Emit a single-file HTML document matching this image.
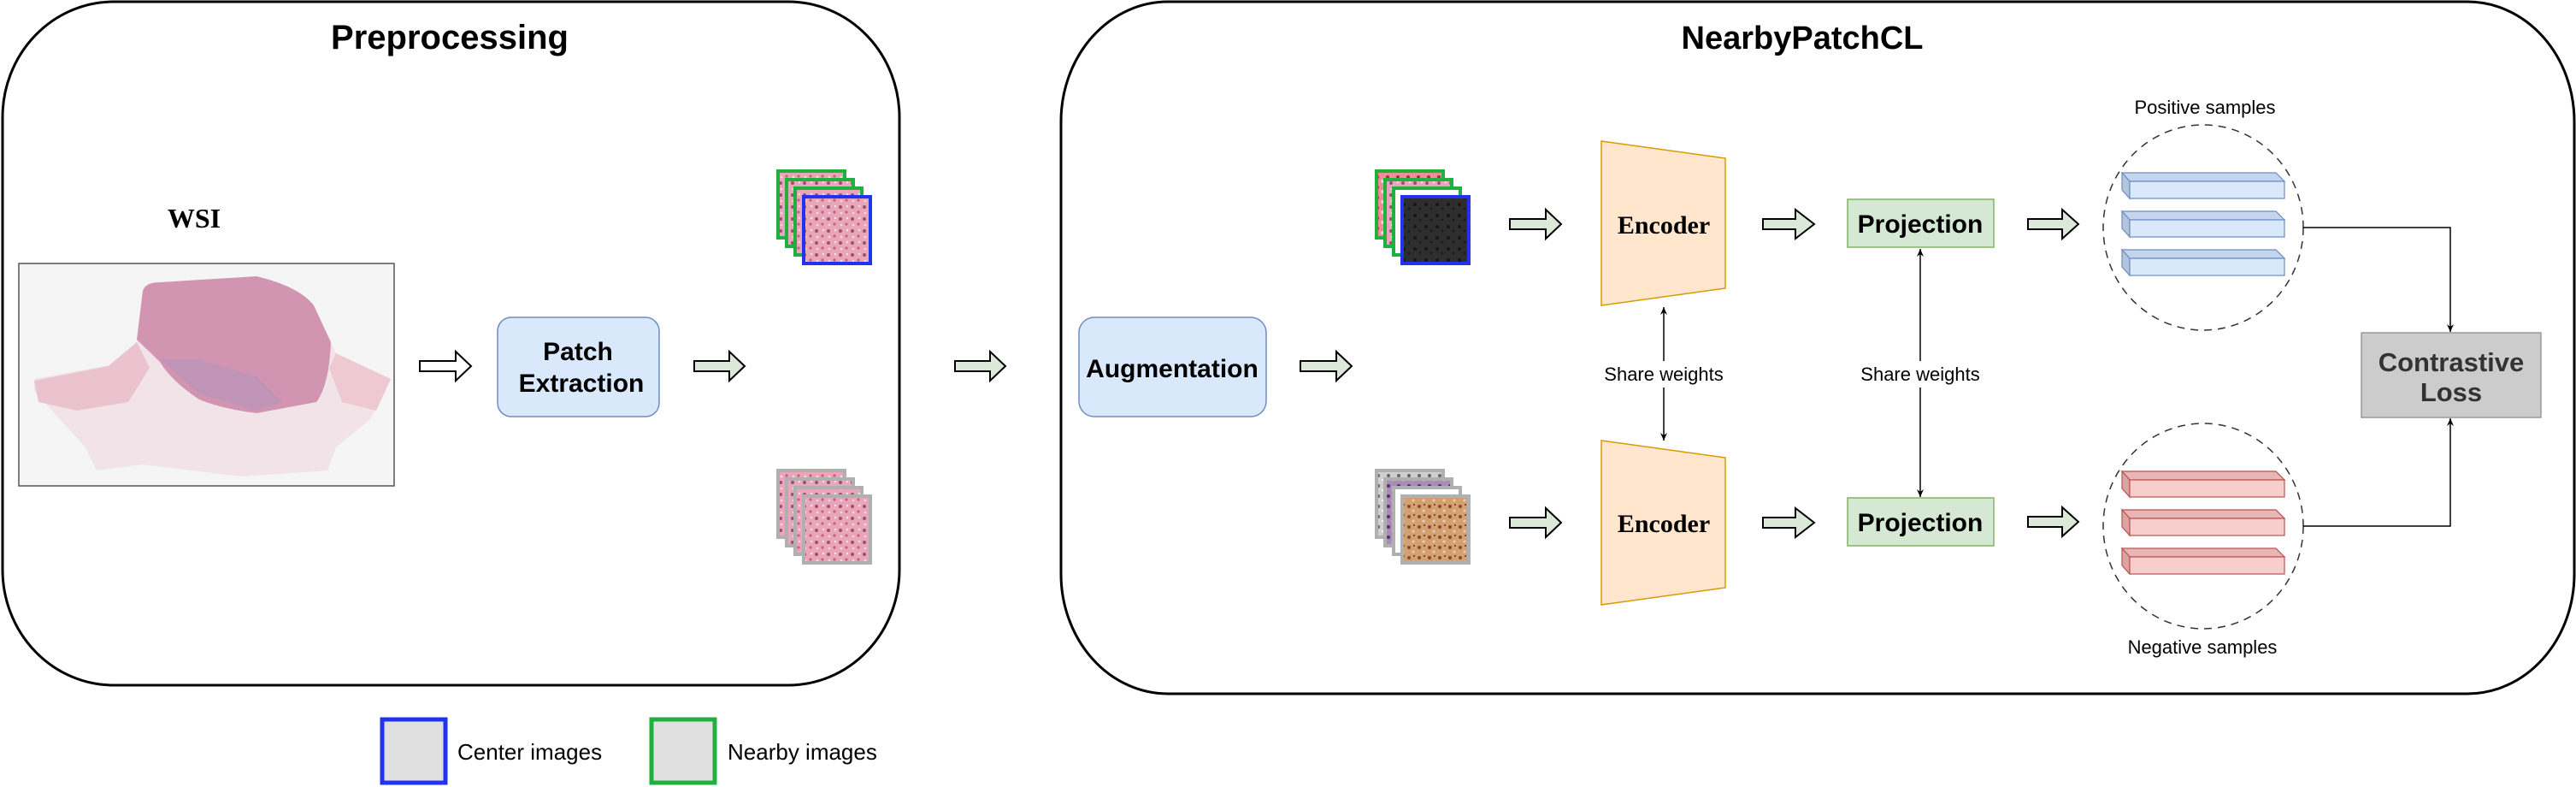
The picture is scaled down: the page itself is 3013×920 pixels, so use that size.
<!DOCTYPE html>
<html><head><meta charset="utf-8"><style>html,body{margin:0;padding:0;background:#fff}svg{display:block}</style></head>
<body>
<svg width="3013" height="920" viewBox="0 0 3013 920" xmlns="http://www.w3.org/2000/svg" font-family="Liberation Sans, sans-serif">
<defs>
<pattern id="pk" width="14" height="14" patternUnits="userSpaceOnUse">
<rect width="14" height="14" fill="#e8a6b8"/><circle cx="3" cy="4" r="2" fill="#9b4f7a"/><circle cx="10" cy="10" r="1.6" fill="#c8607e"/><circle cx="11" cy="3" r="1.2" fill="#fff" opacity=".7"/><circle cx="4" cy="11" r="1.3" fill="#f7dde4"/></pattern>
<pattern id="pk2" width="12" height="12" patternUnits="userSpaceOnUse">
<rect width="12" height="12" fill="#ef8d9c"/><circle cx="3" cy="3" r="2" fill="#c02040"/><circle cx="9" cy="8" r="1.8" fill="#f8e0e4"/></pattern>
<pattern id="dk" width="13" height="13" patternUnits="userSpaceOnUse">
<rect width="13" height="13" fill="#2e2e2e"/><circle cx="4" cy="5" r="2" fill="#161616"/><circle cx="10" cy="10" r="1.5" fill="#1c1c1c"/></pattern>
<pattern id="gy" width="12" height="12" patternUnits="userSpaceOnUse">
<rect width="12" height="12" fill="#cfcfcf"/><circle cx="4" cy="4" r="2" fill="#666"/><circle cx="9" cy="9" r="1.4" fill="#f0f0f0"/></pattern>
<pattern id="pu" width="12" height="12" patternUnits="userSpaceOnUse">
<rect width="12" height="12" fill="#a98ab8"/><circle cx="4" cy="4" r="2" fill="#553070"/><circle cx="9" cy="9" r="1.4" fill="#e8d8ee"/></pattern>
<pattern id="br" width="12" height="12" patternUnits="userSpaceOnUse">
<rect width="12" height="12" fill="#d4a070"/><circle cx="4" cy="4" r="2" fill="#8a4a3a"/><circle cx="9" cy="9" r="1.6" fill="#e8c8b0"/><circle cx="10" cy="2" r="1" fill="#6a3020"/></pattern>
<marker id="ah" markerWidth="10" markerHeight="10" refX="9" refY="5" orient="auto" markerUnits="userSpaceOnUse"><path d="M0,1 L9,5 L0,9 L3,5 Z" fill="#000"/></marker>
</defs>

<rect x="3" y="2" width="1049" height="799" rx="130" ry="135" fill="none" stroke="#000" stroke-width="3"/>
<rect x="1241" y="2" width="1770" height="809" rx="125" ry="140" fill="none" stroke="#000" stroke-width="3"/>
<text x="526" y="57" font-size="40" font-weight="bold" text-anchor="middle">Preprocessing</text>
<text x="2108" y="57" font-size="38" font-weight="bold" text-anchor="middle">NearbyPatchCL</text>

<text x="227" y="266" font-family="Liberation Serif, serif" font-size="32" font-weight="bold" text-anchor="middle">WSI</text>
<rect x="22" y="308" width="439" height="260" fill="#f5f5f5" stroke="#555" stroke-width="1.5"/>
<path d="M40,443 L127,427 L160,400 L167,340 L187,330 L300,323 L367,357 L393,413 L457,443 L433,490 L393,523 L383,550 L283,557 L167,543 L113,550 L100,523 L40,457 Z" fill="#f1e3e7"/>
<path d="M40,445 L127,428 L160,400 L175,430 L150,470 L90,480 L45,470 Z" fill="#ebc3ce"/>
<path d="M393,413 L457,443 L440,480 L400,470 L385,430 Z" fill="#eec9d2"/>
<path d="M167,340 Q170,330 187,330 L300,323 Q350,335 367,357 L387,400 Q385,450 370,470 L300,483 Q260,478 233,467 Q200,445 187,423 L160,397 Z" fill="#d195b1"/>
<path d="M187,420 L233,460 L300,480 L330,470 L300,440 L230,420 Z" fill="#b094bb" opacity=".5"/>

<path d="M491,422 L533,422 L533,411 L551,428 L533,445 L533,434 L491,434 Z" fill="#fff" stroke="#000" stroke-width="2"/>
<rect x="582" y="371" width="189" height="116" rx="16" fill="#dae8fc" stroke="#6c8ebf" stroke-width="1.5"/>
<text x="676" y="421" font-size="30" font-weight="bold" text-anchor="middle">Patch</text>
<text x="680" y="458" font-size="30" font-weight="bold" text-anchor="middle">Extraction</text>
<path d="M812,422 L853,422 L853,411 L871,428 L853,445 L853,434 L812,434 Z" fill="#dde9d8" stroke="#000" stroke-width="2"/>

<g stroke-width="4">
<rect x="910" y="200" width="78" height="78" fill="url(#pk)" stroke="#1fb040"/>
<rect x="920" y="210" width="78" height="78" fill="url(#pk)" stroke="#1fb040"/>
<rect x="930" y="220" width="78" height="78" fill="url(#pk)" stroke="#1fb040"/>
<rect x="940" y="230" width="78" height="78" fill="url(#pk)" stroke="#2233ee"/>
<rect x="910" y="550" width="78" height="78" fill="url(#pk)" stroke="#b0b0b0"/>
<rect x="920" y="560" width="78" height="78" fill="url(#pk)" stroke="#b0b0b0"/>
<rect x="930" y="570" width="78" height="78" fill="url(#pk)" stroke="#b0b0b0"/>
<rect x="940" y="580" width="78" height="78" fill="url(#pk)" stroke="#b0b0b0"/>
</g>
<path d="M1117,422 L1158,422 L1158,411 L1176,428 L1158,445 L1158,434 L1117,434 Z" fill="#dde9d8" stroke="#000" stroke-width="2"/>

<rect x="447" y="841" width="74" height="74" fill="#e0e0e0" stroke="#2233ee" stroke-width="5"/>
<text x="535" y="888" font-size="26">Center images</text>
<rect x="762" y="841" width="74" height="74" fill="#e0e0e0" stroke="#1fb040" stroke-width="5"/>
<text x="851" y="888" font-size="26">Nearby images</text>

<rect x="1262" y="371" width="219" height="116" rx="18" fill="#dae8fc" stroke="#6c8ebf" stroke-width="1.5"/>
<text x="1371" y="441" font-size="30" font-weight="bold" text-anchor="middle">Augmentation</text>
<path d="M1521,422 L1563,422 L1563,411 L1581,428 L1563,445 L1563,434 L1521,434 Z" fill="#dde9d8" stroke="#000" stroke-width="2"/>

<g stroke-width="4">
<rect x="1610" y="200" width="78" height="78" fill="url(#pk2)" stroke="#1fb040"/>
<rect x="1620" y="210" width="78" height="78" fill="url(#pk)" stroke="#1fb040"/>
<rect x="1630" y="220" width="78" height="78" fill="#fff" stroke="#1fb040"/>
<rect x="1640" y="230" width="78" height="78" fill="url(#dk)" stroke="#2233ee"/>
<rect x="1610" y="550" width="78" height="78" fill="url(#gy)" stroke="#b0b0b0"/>
<rect x="1620" y="560" width="78" height="78" fill="url(#pu)" stroke="#b0b0b0"/>
<rect x="1630" y="570" width="78" height="78" fill="#fff" stroke="#b0b0b0"/>
<rect x="1640" y="580" width="78" height="78" fill="url(#br)" stroke="#b0b0b0"/>
</g>

<path d="M1766,256 L1808,256 L1808,245 L1826,262 L1808,279 L1808,268 L1766,268 Z" fill="#dde9d8" stroke="#000" stroke-width="2"/>
<path d="M1766,605 L1808,605 L1808,594 L1826,611 L1808,628 L1808,617 L1766,617 Z" fill="#dde9d8" stroke="#000" stroke-width="2"/>

<path d="M1873,165 L2018,185 L2018,337 L1873,357 Z" fill="#ffe6cc" stroke="#d79b00" stroke-width="1.5"/>
<text x="1946" y="273" font-family="Liberation Serif, serif" font-size="30" font-weight="bold" text-anchor="middle">Encoder</text>
<path d="M1873,515 L2018,535 L2018,687 L1873,707 Z" fill="#ffe6cc" stroke="#d79b00" stroke-width="1.5"/>
<text x="1946" y="622" font-family="Liberation Serif, serif" font-size="30" font-weight="bold" text-anchor="middle">Encoder</text>

<line x1="1946" y1="422" x2="1946" y2="359" stroke="#000" stroke-width="1.5" marker-end="url(#ah)"/>
<line x1="1946" y1="453" x2="1946" y2="515" stroke="#000" stroke-width="1.5" marker-end="url(#ah)"/>
<text x="1946" y="445" font-size="22" text-anchor="middle">Share weights</text>

<path d="M2062,256 L2100,256 L2100,245 L2122,262 L2100,279 L2100,268 L2062,268 Z" fill="#dde9d8" stroke="#000" stroke-width="2"/>
<path d="M2062,605 L2100,605 L2100,594 L2122,611 L2100,628 L2100,617 L2062,617 Z" fill="#dde9d8" stroke="#000" stroke-width="2"/>

<rect x="2161" y="233" width="171" height="56" fill="#d5e8d4" stroke="#82b366" stroke-width="1.5"/>
<text x="2246" y="272" font-size="30" font-weight="bold" text-anchor="middle">Projection</text>
<rect x="2161" y="582" width="171" height="56" fill="#d5e8d4" stroke="#82b366" stroke-width="1.5"/>
<text x="2246" y="621" font-size="30" font-weight="bold" text-anchor="middle">Projection</text>
<line x1="2246" y1="422" x2="2246" y2="291" stroke="#000" stroke-width="1.5" marker-end="url(#ah)"/>
<line x1="2246" y1="453" x2="2246" y2="581" stroke="#000" stroke-width="1.5" marker-end="url(#ah)"/>
<text x="2246" y="445" font-size="22" text-anchor="middle">Share weights</text>

<path d="M2372,256 L2412,256 L2412,245 L2431,262 L2412,279 L2412,268 L2372,268 Z" fill="#dde9d8" stroke="#000" stroke-width="2"/>
<path d="M2372,604 L2412,604 L2412,593 L2431,610 L2412,627 L2412,616 L2372,616 Z" fill="#dde9d8" stroke="#000" stroke-width="2"/>

<text x="2579" y="133" font-size="22" text-anchor="middle">Positive samples</text>
<ellipse cx="2577" cy="266" rx="117" ry="120" fill="none" stroke="#333" stroke-width="1.5" stroke-dasharray="9,7"/>
<text x="2576" y="764" font-size="22" text-anchor="middle">Negative samples</text>
<ellipse cx="2577" cy="615" rx="117" ry="120" fill="none" stroke="#333" stroke-width="1.5" stroke-dasharray="9,7"/>

<g stroke="#6c8ebf" stroke-width="1.2">
<g id="bp"><path d="M2482,202 L2662,202 L2672,212 L2491,212 Z" fill="#c5d5ee"/><path d="M2482,202 L2491,212 L2491,232 L2482,222 Z" fill="#b4c4dd"/><rect x="2491" y="212" width="181" height="20" fill="#dae8fc"/></g>
<use href="#bp" y="45"/><use href="#bp" y="90"/>
</g>
<g stroke="#b85450" stroke-width="1.2">
<g id="bn"><path d="M2482,551 L2662,551 L2672,561 L2491,561 Z" fill="#e8b6b5"/><path d="M2482,551 L2491,561 L2491,581 L2482,571 Z" fill="#dba4a3"/><rect x="2491" y="561" width="181" height="20" fill="#f8cecc"/></g>
<use href="#bn" y="45"/><use href="#bn" y="90"/>
</g>

<polyline points="2694,266 2866,266 2866,388" fill="none" stroke="#000" stroke-width="1.5" marker-end="url(#ah)"/>
<polyline points="2694,615 2866,615 2866,489" fill="none" stroke="#000" stroke-width="1.5" marker-end="url(#ah)"/>

<rect x="2762" y="389" width="210" height="99" fill="#cccccc" stroke="#999" stroke-width="1.5"/>
<text x="2867" y="434" font-size="31" font-weight="bold" fill="#333" text-anchor="middle">Contrastive</text>
<text x="2867" y="469" font-size="31" font-weight="bold" fill="#333" text-anchor="middle">Loss</text>
</svg>
</body></html>
